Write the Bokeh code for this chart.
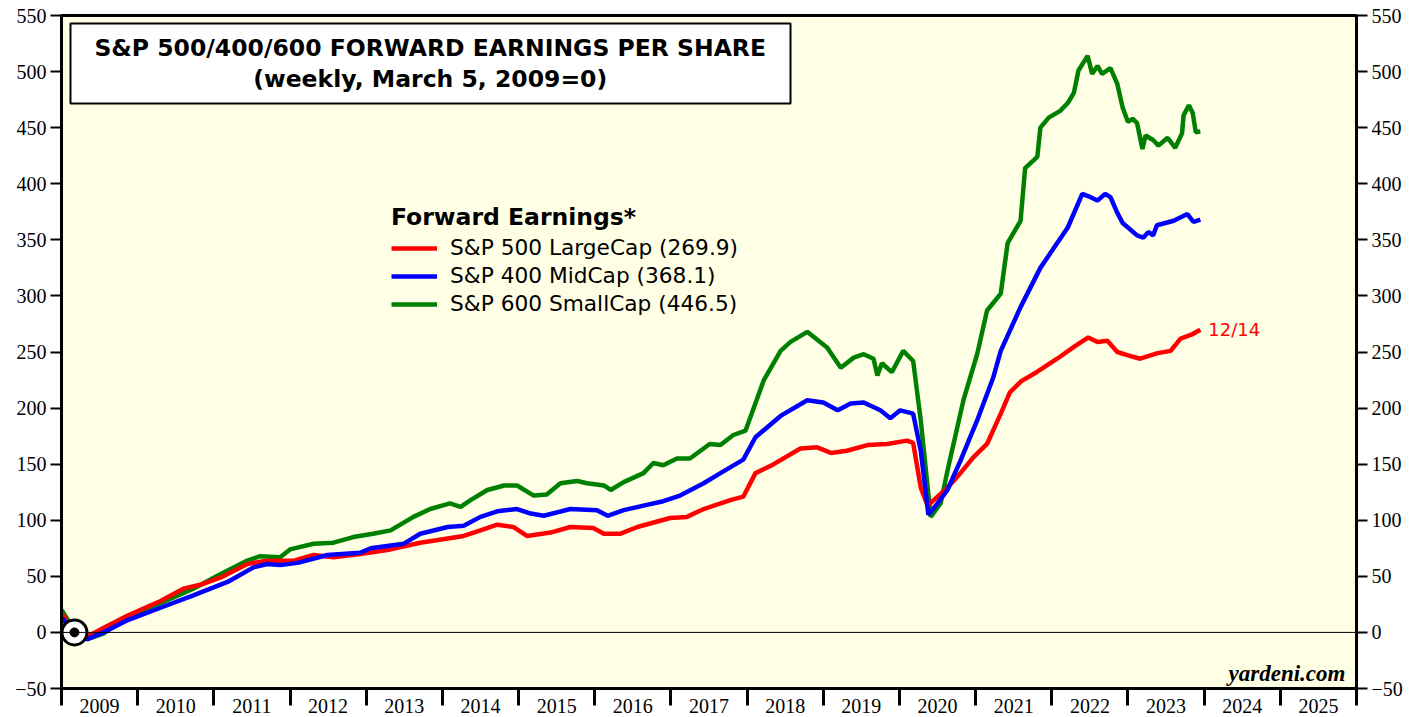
from bokeh.plotting import figure
from bokeh.models import (Range1d, LinearAxis, FixedTicker, Span, BoxAnnotation,
                          Label, Legend, LegendItem, ColumnDataSource)
from bokeh.embed import file_html
from bokeh.resources import INLINE

# ---------------- data (weekly forward EPS, March 5, 2009 = 0) ----------------
years = list(range(2009, 2026))
y_ticks = list(range(-50, 551, 50))

large_x = [2009.0, 2009.17, 2009.33, 2009.55, 2009.87, 2010.1, 2010.3, 2010.6, 2010.85, 2011.09,
           2011.44, 2011.7, 2012.05, 2012.31, 2012.57, 2012.92, 2013.32, 2013.71, 2014.28, 2014.5,
           2014.72, 2014.93, 2015.11, 2015.42, 2015.68, 2015.98, 2016.12, 2016.34, 2016.56, 2016.99,
           2017.21, 2017.43, 2017.78, 2017.95, 2018.11, 2018.35, 2018.7, 2018.92, 2019.1, 2019.31,
           2019.58, 2019.84, 2020.1, 2020.18, 2020.28, 2020.37, 2020.45, 2020.63, 2020.8, 2020.97,
           2021.15, 2021.33, 2021.45, 2021.6, 2021.8, 2022.07, 2022.3, 2022.48, 2022.6, 2022.73,
           2022.86, 2023.0, 2023.16, 2023.39, 2023.56, 2023.69, 2023.85, 2023.95]
large_y = [17, 0, -4, 4, 15, 22, 28, 39, 43, 49,
           61, 64, 64, 69, 67, 70, 74, 80, 86, 91,
           96, 94, 86, 89, 94, 93, 88, 88, 94, 102,
           103, 110, 118, 121, 142, 150, 164, 165, 160, 162,
           167, 168, 171, 169, 129, 113, 118, 129, 142, 156,
           168, 195, 214, 224, 232, 244, 255, 263, 259, 260,
           250, 247, 244, 249, 251, 262, 266, 269.9]

mid_x = [2009.0, 2009.17, 2009.34, 2009.55, 2009.87, 2010.3, 2010.73, 2011.18, 2011.52, 2011.7,
         2011.87, 2012.1, 2012.49, 2012.92, 2013.06, 2013.49, 2013.71, 2014.07, 2014.28, 2014.5,
         2014.72, 2014.98, 2015.16, 2015.33, 2015.68, 2016.03, 2016.17, 2016.38, 2016.64, 2016.9,
         2017.12, 2017.43, 2017.65, 2017.95, 2018.11, 2018.44, 2018.79, 2019.0, 2019.19, 2019.36,
         2019.53, 2019.75, 2019.88, 2020.01, 2020.18, 2020.28, 2020.38, 2020.5, 2020.63, 2020.8,
         2021.02, 2021.23, 2021.33, 2021.59, 2021.85, 2021.98, 2022.21, 2022.4, 2022.51, 2022.6,
         2022.7, 2022.77, 2022.86, 2022.93, 2023.12, 2023.2, 2023.27, 2023.33, 2023.38, 2023.6,
         2023.78, 2023.86, 2023.95]
mid_y = [13, 0, -6, 0, 11, 22, 33, 45, 58, 61,
         60, 62, 69, 71, 75, 79, 88, 94, 95, 103,
         108, 110, 106, 104, 110, 109, 104, 109, 113, 117,
         122, 133, 142, 154, 174, 193, 207, 205, 198, 204,
         205, 198, 191, 198, 195, 162, 105, 115, 127, 153,
         189, 227, 251, 290, 325, 338, 361, 391, 388, 385,
         391, 388, 374, 365, 354, 352, 357, 354, 363, 367,
         373, 366, 368.1]

small_x = [2009.0, 2009.17, 2009.34, 2009.55, 2009.87, 2010.3, 2010.73, 2011.09, 2011.44, 2011.61,
           2011.87, 2012.0, 2012.31, 2012.57, 2012.83, 2013.09, 2013.32, 2013.62, 2013.84, 2014.1,
           2014.24, 2014.37, 2014.59, 2014.81, 2014.98, 2015.2, 2015.37, 2015.55, 2015.77, 2015.9,
           2016.12, 2016.21, 2016.38, 2016.64, 2016.77, 2016.9, 2017.08, 2017.25, 2017.51, 2017.65,
           2017.82, 2017.98, 2018.22, 2018.44, 2018.57, 2018.79, 2019.05, 2019.23, 2019.4, 2019.53,
           2019.66, 2019.71, 2019.77, 2019.9, 2020.05, 2020.18, 2020.28, 2020.41, 2020.54, 2020.64,
           2020.84, 2021.02, 2021.15, 2021.33, 2021.42, 2021.59, 2021.65, 2021.81, 2021.85, 2021.96,
           2022.11, 2022.21, 2022.29, 2022.35, 2022.47, 2022.53, 2022.6, 2022.66, 2022.77, 2022.86,
           2022.93, 2023.0, 2023.06, 2023.12, 2023.19, 2023.23, 2023.33, 2023.4, 2023.52, 2023.62,
           2023.71, 2023.73, 2023.8, 2023.85, 2023.89, 2023.95]
small_y = [20, 2, -6, -1, 14, 26, 39, 52, 64, 68,
           67, 74, 79, 80, 85, 88, 91, 103, 110, 115,
           112, 118, 127, 131, 131, 122, 123, 133, 135, 133,
           131, 127, 134, 142, 151, 149, 155, 155, 168, 167,
           176, 180, 225, 251, 259, 268, 254, 236, 245, 248,
           244, 229, 240, 232, 251, 242, 189, 103, 115, 147,
           207, 248, 287, 302, 347, 367, 414, 424, 450, 459,
           465, 472, 481, 501, 514, 498, 505, 498, 503, 489,
           468, 455, 458, 454, 431, 443, 439, 434, 441, 432,
           445, 461, 470, 463, 446, 446.5]

base_x = [2009.17]
base_y = [0]
last_date = "12/14"

# ---------------- figure ----------------
FONT_SERIF = "Liberation Serif"
FONT_SANS = "DejaVu Sans"

p = figure(width=1427, height=717,
           x_range=Range1d(2009, 2026), y_range=Range1d(-50, 550),
           output_backend="svg", toolbar_location=None,
           min_border_left=61, min_border_right=71, min_border_top=15, min_border_bottom=29,
           background_fill_color="#FFFFE6", border_fill_color="white")
p.grid.visible = False
p.outline_line_color = "black"
p.outline_line_width = 3

# bottom axis: year boundaries as (minor) ticks, labels centred in each year
xax = p.xaxis[0]
xax.ticker = FixedTicker(ticks=[y + 0.5 for y in years], minor_ticks=years + [2026])
xax.major_label_overrides = {y + 0.5: str(y) for y in years}
xax.major_tick_line_color = None
xax.major_tick_out = 0
xax.major_tick_in = 0
xax.minor_tick_out = 17
xax.minor_tick_in = 0
xax.minor_tick_line_width = 3
xax.minor_tick_line_color = "black"
xax.axis_line_width = 3
xax.major_label_standoff = -7
xax.major_label_text_font = FONT_SERIF
xax.major_label_text_font_size = "20px"
xax.major_label_text_color = "black"

def style_y(ax):
    ax.ticker = FixedTicker(ticks=y_ticks, minor_ticks=[])
    ax.major_tick_out = 11
    ax.major_tick_in = 0
    ax.major_tick_line_width = 2
    ax.minor_tick_line_color = None
    ax.axis_line_width = 3
    ax.major_label_standoff = 4
    ax.major_label_text_font = FONT_SERIF
    ax.major_label_text_font_size = "20px"
    ax.major_label_text_color = "black"

style_y(p.yaxis[0])
right_ax = LinearAxis()
style_y(right_ax)
p.add_layout(right_ax, "right")

# zero line
p.add_layout(Span(location=0, dimension="width", line_color="black", line_width=1))

# series
src_l = ColumnDataSource(dict(x=large_x, y=large_y))
src_m = ColumnDataSource(dict(x=mid_x, y=mid_y))
src_s = ColumnDataSource(dict(x=small_x, y=small_y))
r_s = p.line("x", "y", source=src_s, line_color="#008000", line_width=4.5)
r_l = p.line("x", "y", source=src_l, line_color="#FF0000", line_width=4.5)
r_m = p.line("x", "y", source=src_m, line_color="#0000FF", line_width=4.5)

# base-date marker
p.scatter(base_x, base_y, size=25, fill_color="white", line_color="black", line_width=3)
p.scatter(base_x, base_y, size=9, fill_color="black", line_color="black")

# title box
p.add_layout(BoxAnnotation(left=2009.118, right=2018.57, bottom=471.5, top=542.9,
                           fill_color="white", fill_alpha=1, line_color="black",
                           line_width=2, line_alpha=1))
p.add_layout(Label(x=2013.84, y=520.6, text="S&P 500/400/600 FORWARD EARNINGS PER SHARE",
                   text_align="center", text_baseline="middle", text_font=FONT_SANS,
                   text_font_style="bold", text_font_size="23.5px", text_color="black"))
p.add_layout(Label(x=2013.84, y=493.8, text="(weekly, March 5, 2009=0)",
                   text_align="center", text_baseline="middle", text_font=FONT_SANS,
                   text_font_style="bold", text_font_size="23.5px", text_color="black"))

# legend
items = [
    LegendItem(label=f"S&P 500 LargeCap ({large_y[-1]:.1f})", renderers=[r_l]),
    LegendItem(label=f"S&P 400 MidCap ({mid_y[-1]:.1f})", renderers=[r_m]),
    LegendItem(label=f"S&P 600 SmallCap ({small_y[-1]:.1f})", renderers=[r_s]),
]
legend = Legend(items=items, title="Forward Earnings*", location=(330, 372),
                title_text_font=FONT_SANS, title_text_font_style="bold",
                title_text_font_size="23.5px", title_text_color="black", title_standoff=4,
                label_text_font=FONT_SANS, label_text_font_size="21.7px", label_text_color="black",
                glyph_width=46, glyph_height=22, label_height=22, label_standoff=13, spacing=3,
                padding=0, margin=0, border_line_alpha=0, background_fill_alpha=0)
p.add_layout(legend)

# last-date label and source
p.add_layout(Label(x=large_x[-1], y=large_y[-1], x_offset=8, text=last_date,
                   text_align="left", text_baseline="middle", text_font=FONT_SANS,
                   text_font_size="18px", text_color="#FF0000"))
p.add_layout(Label(x=2025.855, y=-37, text="yardeni.com", text_align="right",
                   text_baseline="alphabetic", text_font=FONT_SERIF, text_font_style="bold italic",
                   text_font_size="23px", text_color="black"))

open("out.html", "w").write(file_html(p, INLINE))
